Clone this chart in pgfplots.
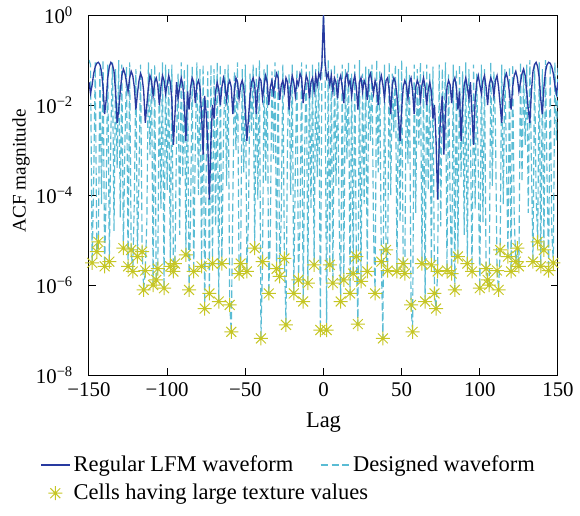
\documentclass[border=0pt]{standalone}
\usepackage{fontspec}
\setmainfont{Liberation Serif}
\usepackage{pgfplots}
\pgfplotsset{compat=1.18}
\usepackage{pgfplotstable}

\definecolor{lfmblue}{RGB}{40,58,160}
\definecolor{descyan}{RGB}{90,188,212}
\definecolor{staryel}{RGB}{198,198,36}

% MATLAB-like 8-armed asterisk
\pgfdeclareplotmark{ast8}{%
  \pgfpathmoveto{\pgfqpoint{-\pgfplotmarksize}{0pt}}%
  \pgfpathlineto{\pgfqpoint{\pgfplotmarksize}{0pt}}%
  \pgfpathmoveto{\pgfqpoint{0pt}{-\pgfplotmarksize}}%
  \pgfpathlineto{\pgfqpoint{0pt}{\pgfplotmarksize}}%
  \pgfpathmoveto{\pgfqpoint{-0.707\pgfplotmarksize}{-0.707\pgfplotmarksize}}%
  \pgfpathlineto{\pgfqpoint{0.707\pgfplotmarksize}{0.707\pgfplotmarksize}}%
  \pgfpathmoveto{\pgfqpoint{-0.707\pgfplotmarksize}{0.707\pgfplotmarksize}}%
  \pgfpathlineto{\pgfqpoint{0.707\pgfplotmarksize}{-0.707\pgfplotmarksize}}%
  \pgfusepathqstroke}

% lag, regular LFM ACF, designed waveform ACF
\pgfplotstableread{
lag lfm des
-150 3.2e-2 1.0e-1
-149 1.8e-2 7.9e-2
-148 2.8e-2 3.1e-6
-147 5.0e-2 2.0e-4
-146 7.1e-2 8.9e-2
-145 8.5e-2 5.5e-6
-144 8.9e-2 9.1e-6
-143 7.9e-2 7.1e-2
-142 5.6e-2 6.3e-5
-141 2.5e-2 1.0e-1
-140 6.3e-3 2.6e-6
-139 1.3e-2 1.3e-4
-138 4.0e-2 7.9e-2
-137 7.1e-2 3.3e-6
-136 8.9e-2 2.5e-3
-135 7.9e-2 8.9e-2
-134 5.6e-2 1.6e-5
-133 2.0e-2 6.3e-2
-132 4.0e-3 4.0e-4
-131 7.9e-3 1.0e-1
-130 2.0e-2 3.2e-5
-129 4.5e-2 7.9e-2
-128 6.3e-2 6.6e-6
-127 5.0e-2 1.6e-3
-126 3.2e-2 7.1e-2
-125 2.0e-2 2.6e-6
-124 4.0e-2 8.9e-2
-123 5.6e-2 6.0e-6
-122 4.5e-2 2.0e-6
-121 2.5e-2 7.9e-5
-120 7.9e-3 6.3e-2
-119 1.8e-2 4.3e-6
-118 3.5e-2 3.2e-4
-117 5.0e-2 7.9e-2
-116 4.0e-2 5.5e-6
-115 2.0e-2 7.8e-7
-114 4.0e-3 2.1e-6
-113 1.0e-2 2.5e-5
-112 2.5e-2 8.9e-2
-111 4.5e-2 7.9e-4
-110 3.5e-2 6.3e-2
-109 1.6e-2 1.0e-6
-108 3.2e-2 7.9e-2
-107 4.0e-2 1.3e-6
-106 2.8e-2 2.3e-6
-105 1.0e-2 5.6e-2
-104 2.5e-2 5.0e-5
-103 4.5e-2 8.9e-2
-102 3.5e-2 8.5e-7
-101 1.8e-2 7.9e-2
-100 2.8e-2 1.3e-4
-99 4.5e-2 6.3e-2
-98 3.2e-2 2.6e-6
-97 1.3e-2 7.9e-2
-96 1.3e-3 2.0e-6
-95 6.3e-3 3.0e-6
-94 3.2e-2 2.0e-3
-93 1.4e-2 5.0e-2
-92 2.5e-2 1.3e-5
-91 4.0e-2 8.9e-2
-90 2.8e-2 2.5e-4
-89 1.0e-2 6.3e-2
-88 1.6e-3 4.7e-6
-87 2.0e-2 7.9e-2
-86 7.9e-3 7.8e-7
-85 2.5e-2 4.0e-5
-84 4.0e-2 7.1e-2
-83 3.2e-2 2.0e-6
-82 1.1e-2 1.3e-3
-81 2.8e-2 8.9e-2
-80 3.5e-2 1.0e-4
-79 2.5e-2 6.3e-2
-78 6.3e-3 2.6e-6
-77 7.9e-4 7.9e-2
-76 1.6e-2 3.0e-7
-75 6.3e-3 5.0e-4
-74 1.3e-3 5.6e-2
-73 7.9e-5 6.5e-7
-72 1.6e-3 7.9e-2
-71 1.0e-2 3.0e-6
-70 5.0e-3 6.3e-2
-69 2.0e-2 2.0e-5
-68 3.2e-2 8.9e-2
-67 2.2e-2 4.3e-7
-66 1.0e-2 7.9e-2
-65 2.5e-2 3.0e-6
-64 4.0e-2 1.6e-3
-63 2.8e-2 6.3e-2
-62 1.3e-2 1.6e-4
-61 2.8e-2 7.9e-2
-60 3.5e-2 3.6e-7
-59 2.5e-2 9.1e-8
-58 6.3e-3 6.3e-5
-57 2.0e-2 5.6e-2
-56 4.0e-2 1.0e-3
-55 3.2e-2 8.9e-2
-54 1.4e-2 1.8e-6
-53 2.8e-2 3.0e-6
-52 3.5e-2 6.3e-2
-51 2.5e-2 3.2e-4
-50 7.9e-3 7.9e-2
-49 1.6e-3 2.0e-6
-48 5.0e-3 3.2e-5
-47 1.6e-2 5.0e-2
-46 3.2e-2 2.5e-3
-45 4.0e-2 7.9e-2
-44 2.8e-2 6.6e-6
-43 6.3e-3 7.1e-2
-42 2.2e-2 7.9e-5
-41 4.0e-2 1.0e-1
-40 3.5e-2 6.5e-8
-39 1.4e-2 3.3e-6
-38 2.8e-2 6.3e-2
-37 4.5e-2 2.0e-4
-36 3.2e-2 7.9e-2
-35 1.0e-2 6.5e-7
-34 2.5e-2 1.6e-5
-33 3.5e-2 5.6e-2
-32 1.8e-2 6.3e-4
-31 3.2e-2 8.9e-2
-30 5.0e-2 2.3e-6
-29 4.0e-2 6.3e-2
-28 1.3e-2 1.55e-6
-27 2.8e-2 4.0e-5
-26 3.5e-2 7.9e-2
-25 2.0e-2 3.9e-6
-24 4.0e-2 1.3e-7
-23 3.2e-2 2.0e-3
-22 7.9e-3 5.0e-2
-21 2.5e-2 1.0e-4
-20 4.5e-2 7.9e-2
-19 3.2e-2 6.5e-7
-18 1.6e-2 4.0e-4
-17 3.5e-2 6.3e-2
-16 2.8e-2 1.3e-6
-15 5.0e-2 2.5e-5
-14 4.0e-2 8.9e-2
-13 1.1e-2 4.3e-7
-12 2.5e-2 1.3e-3
-11 4.5e-2 7.9e-2
-10 3.5e-2 1.1e-6
-9 1.4e-2 5.6e-2
-8 3.2e-2 5.0e-5
-7 4.0e-2 7.9e-2
-6 2.0e-2 2.8e-6
-5 4.5e-2 6.3e-2
-4 2.8e-2 2.5e-4
-3 5.0e-2 8.9e-2
-2 4.0e-2 1.0e-7
-1 8.9e-2 7.9e-2
0 1 1
1 8.9e-2 7.9e-2
2 4.0e-2 1.0e-7
3 5.0e-2 1.0e-1
4 2.8e-2 2.8e-6
5 4.5e-2 6.3e-2
6 2.0e-2 1.1e-6
7 4.0e-2 7.9e-2
8 3.2e-2 1.6e-4
9 1.4e-2 5.0e-2
10 3.5e-2 3.2e-5
11 4.5e-2 4.3e-7
12 2.5e-2 7.9e-2
13 1.1e-2 1.3e-6
14 4.0e-2 6.3e-2
15 5.0e-2 6.3e-4
16 2.8e-2 8.9e-2
17 3.5e-2 6.5e-7
18 1.6e-2 5.0e-2
19 3.2e-2 1.8e-6
20 4.5e-2 7.9e-2
21 2.5e-2 4.3e-6
22 7.9e-3 1.35e-7
23 3.2e-2 1.0e-1
24 4.0e-2 1.2e-6
25 2.0e-2 5.0e-2
26 3.5e-2 6.3e-5
27 2.8e-2 7.1e-2
28 1.3e-2 2.0e-6
29 4.0e-2 6.3e-2
30 5.0e-2 1.6e-3
31 3.2e-2 7.9e-2
32 1.8e-2 1.6e-5
33 3.5e-2 6.5e-7
34 2.5e-2 1.0e-1
35 1.0e-2 3.2e-4
36 3.2e-2 5.6e-2
37 4.5e-2 3.3e-6
38 2.8e-2 6.5e-8
39 1.4e-2 7.9e-2
40 3.5e-2 6.0e-6
41 4.0e-2 2.1e-6
42 2.2e-2 8.9e-2
43 6.3e-3 1.0e-4
44 2.8e-2 5.0e-2
45 4.0e-2 2.5e-3
46 3.2e-2 7.9e-2
47 1.6e-2 2.0e-6
48 5.0e-3 6.3e-2
49 1.6e-3 2.5e-5
50 7.9e-3 1.0e-1
51 2.5e-2 3.0e-6
52 3.5e-2 1.8e-6
53 2.8e-2 7.1e-2
54 1.4e-2 5.0e-4
55 3.2e-2 5.0e-2
56 4.0e-2 3.6e-7
57 2.0e-2 9.1e-8
58 6.3e-3 7.9e-2
59 2.5e-2 4.0e-5
60 3.5e-2 6.3e-2
61 2.8e-2 1.3e-3
62 1.3e-2 8.9e-2
63 2.8e-2 3.0e-6
64 4.0e-2 5.6e-2
65 2.5e-2 4.3e-7
66 1.0e-2 7.9e-2
67 2.2e-2 1.3e-4
68 3.2e-2 5.0e-2
69 2.0e-2 2.8e-6
70 5.0e-3 7.1e-2
71 1.0e-2 6.5e-7
72 1.6e-3 3.0e-7
73 7.9e-5 2.0e-6
74 1.3e-3 7.9e-2
75 6.3e-3 2.0e-5
76 1.6e-2 6.3e-2
77 7.9e-4 1.0e-3
78 6.3e-3 8.9e-2
79 2.5e-2 2.1e-6
80 3.5e-2 5.0e-2
81 2.8e-2 7.9e-5
82 1.1e-2 1.8e-6
83 3.2e-2 7.9e-2
84 4.0e-2 7.8e-7
85 2.5e-2 6.3e-2
86 7.9e-3 4.3e-6
87 2.0e-2 7.9e-2
88 1.6e-3 2.5e-4
89 1.0e-2 5.6e-2
90 2.8e-2 1.3e-5
91 4.0e-2 8.9e-2
92 2.5e-2 3.0e-6
93 1.4e-2 6.3e-2
94 3.2e-2 2.0e-3
95 6.3e-3 2.0e-6
96 1.3e-3 7.9e-2
97 1.3e-2 5.0e-5
98 3.2e-2 5.0e-2
99 4.5e-2 4.0e-4
100 2.8e-2 8.5e-7
101 1.8e-2 7.9e-2
102 3.5e-2 2.5e-5
103 4.5e-2 6.3e-2
104 2.5e-2 2.3e-6
105 1.0e-2 1.3e-6
106 2.8e-2 1.0e-6
107 4.0e-2 8.9e-2
108 3.2e-2 1.6e-4
109 1.6e-2 5.6e-2
110 3.5e-2 3.2e-3
111 4.5e-2 2.1e-6
112 2.5e-2 7.8e-7
113 1.0e-2 6.0e-6
114 4.0e-3 7.9e-2
115 2.0e-2 6.3e-5
116 4.0e-2 6.3e-2
117 5.0e-2 7.9e-4
118 3.5e-2 4.3e-6
119 1.8e-2 7.1e-2
120 7.9e-3 2.0e-6
121 2.5e-2 7.9e-2
122 4.5e-2 3.2e-5
123 5.6e-2 3.3e-6
124 4.0e-2 6.6e-6
125 2.0e-2 2.6e-6
126 3.2e-2 8.9e-2
127 5.0e-2 2.0e-4
128 6.3e-2 6.3e-2
129 4.5e-2 1.3e-3
130 2.0e-2 7.9e-2
131 7.9e-3 4.0e-5
132 4.0e-3 1.0e-1
133 2.0e-2 5.0e-4
134 5.6e-2 3.3e-6
135 7.9e-2 7.9e-2
136 8.9e-2 1.0e-4
137 7.1e-2 9.1e-6
138 4.0e-2 8.9e-2
139 1.3e-2 2.6e-6
140 6.3e-3 6.3e-2
141 2.5e-2 6.0e-6
142 5.6e-2 1.0e-1
143 7.9e-2 2.5e-4
144 8.9e-2 2.1e-6
145 8.5e-2 7.9e-2
146 7.1e-2 1.6e-5
147 5.0e-2 3.1e-6
148 2.8e-2 8.9e-2
149 1.8e-2 1.6e-3
150 3.2e-2 7.9e-2
}\acf

% cells having large texture values
\pgfplotstableread{
lag val
-148 3.1e-6
-145 5.5e-6
-144 9.1e-6
-140 2.6e-6
-137 3.3e-6
-128 6.6e-6
-125 2.6e-6
-123 6.0e-6
-122 2.0e-6
-119 4.3e-6
-116 5.5e-6
-115 7.8e-7
-114 2.1e-6
-109 1.0e-6
-107 1.3e-6
-106 2.3e-6
-102 8.5e-7
-98 2.6e-6
-96 2.0e-6
-95 3.0e-6
-88 4.7e-6
-86 7.8e-7
-83 2.0e-6
-78 2.6e-6
-76 3.0e-7
-73 6.5e-7
-71 3.0e-6
-67 4.3e-7
-65 3.0e-6
-60 3.6e-7
-59 9.1e-8
-54 1.8e-6
-53 3.0e-6
-49 2.0e-6
-44 6.6e-6
-40 6.5e-8
-39 3.3e-6
-35 6.5e-7
-30 2.3e-6
-28 1.55e-6
-25 3.9e-6
-24 1.3e-7
-19 6.5e-7
-16 1.3e-6
-13 4.3e-7
-10 1.1e-6
-6 2.8e-6
-2 1.0e-7
2 1.0e-7
4 2.8e-6
6 1.1e-6
11 4.3e-7
13 1.3e-6
17 6.5e-7
19 1.8e-6
21 4.3e-6
22 1.35e-7
24 1.2e-6
28 2.0e-6
33 6.5e-7
37 3.3e-6
38 6.5e-8
40 6.0e-6
41 2.1e-6
47 2.0e-6
51 3.0e-6
52 1.8e-6
56 3.6e-7
57 9.1e-8
63 3.0e-6
65 4.3e-7
69 2.8e-6
71 6.5e-7
72 3.0e-7
73 2.0e-6
79 2.1e-6
82 1.8e-6
84 7.8e-7
86 4.3e-6
92 3.0e-6
95 2.0e-6
100 8.5e-7
104 2.3e-6
105 1.3e-6
106 1.0e-6
111 2.1e-6
112 7.8e-7
113 6.0e-6
118 4.3e-6
120 2.0e-6
123 3.3e-6
124 6.6e-6
125 2.6e-6
134 3.3e-6
137 9.1e-6
139 2.6e-6
141 6.0e-6
144 2.1e-6
147 3.1e-6
}\cells

\begin{document}
\begin{tikzpicture}
\path[use as bounding box] (-53.4pt,-84pt) rectangle (294.6pt,225pt);
\begin{axis}[
    at={(0pt,0pt)}, anchor=south west,
    scale only axis,
    width=281.4pt, height=216pt,
    xmin=-150, xmax=150,
    ymode=log, ymin=1e-8, ymax=1,
    xtick={-150,-100,-50,0,50,100,150},
    xticklabels={−150,−100,−50,0,50,100,150},
    ytick={1e-8,1e-6,1e-4,1e-2,1},
    yticklabels={10\textsuperscript{−8},10\textsuperscript{−6},10\textsuperscript{−4},10\textsuperscript{−2},10\textsuperscript{0}},
    yminorticks=false,
    tick align=inside,
    major tick length=4pt,
    axis line style={line width=0.6pt},
    tick style={line width=0.6pt, black},
    tick label style={font=\fontsize{12.5}{14}\selectfont},
    xticklabel style={yshift=-1pt},
    yticklabel style={xshift=-6pt},
    xlabel={Lag},
    xlabel style={font=\fontsize{13.5}{15}\selectfont, at={(axis description cs:0.5,-0.147)}, anchor=base},
    ylabel={ACF magnitude},
    ylabel style={font=\fontsize{11.5}{13}\selectfont, at={(axis description cs:-0.145,0.567)}, anchor=center},
    legend columns=2,
    legend style={draw=none, fill=none,
        font=\fontsize{13.5}{15}\selectfont,
        at={(axis description cs:-0.115,-0.205)}, anchor=north west,
        /tikz/every even column/.append style={column sep=14pt},
        row sep=2pt},
    legend cell align=left,
]
% legend entries, in the reference order
\addlegendimage{color=lfmblue, line width=0.8pt}
\addlegendentry{Regular LFM waveform}
\addlegendimage{color=descyan, line width=0.7pt, dash pattern=on 4.5pt off 2pt}
\addlegendentry{Designed waveform}
\addlegendimage{only marks, mark=ast8, mark size=4.2pt, color=staryel, mark options={line width=0.6pt}}
\addlegendentry{\makebox[0pt][l]{Cells having large texture values}}

\addplot[forget plot, color=descyan, line width=0.7pt, dash pattern=on 4.5pt off 2pt] table[x=lag, y=des] {\acf};
\addplot[forget plot, color=lfmblue, line width=0.8pt] table[x=lag, y=lfm] {\acf};
\addplot[forget plot, only marks, mark=ast8, mark size=4.2pt, color=staryel,
    mark options={line width=0.6pt}] table[x=lag, y=val] {\cells};
\end{axis}
\end{tikzpicture}
\end{document}
